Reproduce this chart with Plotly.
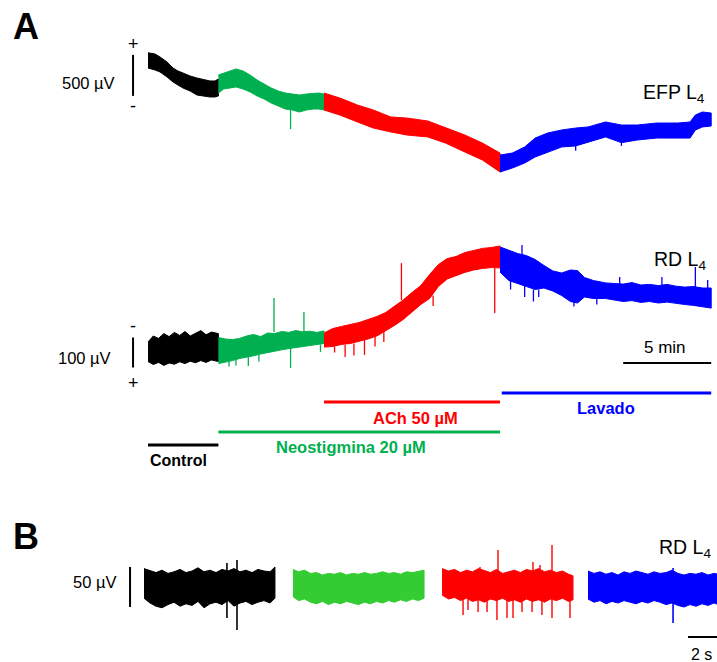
import plotly.graph_objects as go

W, H = 717, 662

# ---------------- Panel A : time in minutes ----------------
# EFP L4 trace (µV, positive up) – upper / lower envelope of the noisy band
efp_black_t  = [0, 0.4, 0.68, 1.08, 1.42, 1.7, 1.99, 2.39, 2.78, 3.18, 3.52, 3.81, 4.0]
efp_black_hi = [576, 561, 525, 464, 390, 354, 329, 293, 268, 244, 232, 232, 256]
efp_black_lo = [390, 366, 342, 281, 220, 183, 146, 110, 61, 49, 37, 37, 49]

efp_green_t  = [4.0, 4.3, 4.6, 5.0, 5.4, 5.8, 6.2, 6.6, 7.0, 7.4, 7.8, 8.2, 8.6, 9.0, 9.4, 9.7, 10.0]
efp_green_hi = [305, 329, 354, 378, 354, 305, 244, 195, 146, 110, 85, 73, 61, 73, 85, 85, 73]
efp_green_lo = [85, 134, 146, 159, 134, 98, 49, 12, -37, -73, -110, -122, -146, -122, -110, -110, -122]

efp_red_t  = [10.0, 10.9, 11.9, 12.8, 13.8, 14.7, 15.9, 16.9, 18.0, 19.0, 20.0]
efp_red_hi = [85, 24, -61, -122, -207, -220, -256, -342, -427, -525, -647]
efp_red_lo = [-122, -183, -268, -342, -390, -427, -451, -525, -634, -732, -878]

efp_blue_t  = [20.0, 20.7, 21.4, 22.0, 22.7, 23.5, 24.3, 25.0, 26.0, 26.9, 27.8, 28.9, 30.1, 30.8, 31.1, 31.5, 32.0]
efp_blue_hi = [-671, -647, -573, -464, -403, -366, -342, -329, -268, -305, -305, -281, -281, -268, -183, -146, -159]
efp_blue_lo = [-878, -830, -769, -695, -634, -573, -560, -512, -451, -520, -488, -464, -464, -464, -366, -329, -317]

efp_spike_t    = [8.1, 24.3, 26.9]
efp_spike_base = [-122, -560, -520]
efp_spike_tip  = [-354, -620, -560]
efp_spike_col  = ["green", "blue", "blue"]

# RD L4 trace (µV, positive down: "-" above, "+" below)
rd_black_t  = [0, 0.3, 0.6, 0.9, 1.2, 1.5, 1.8, 2.1, 2.4, 2.7, 3.0, 3.3, 3.6, 4.0]
rd_black_hi = [-60, -80, -72, -88, -78, -92, -82, -95, -80, -90, -98, -84, -93, -88]
rd_black_lo = [5, 15, 8, 18, 10, 14, 6, 12, 4, 9, 2, 8, 0, 5]

rd_green_t  = [4.0, 4.4, 4.8, 5.2, 5.6, 6.0, 6.4, 6.8, 7.2, 7.6, 8.0, 8.4, 8.8, 9.2, 9.6, 10.0]
rd_green_hi = [-75, -70, -68, -72, -80, -85, -78, -90, -88, -95, -92, -98, -94, -96, -92, -97]
rd_green_lo = [12, 8, 2, -5, -10, -14, -20, -26, -30, -34, -38, -42, -45, -48, -52, -55]

rd_red_t  = [10.0, 10.5, 11.0, 11.5, 12.0, 12.5, 13.0, 13.5, 14.0, 14.5, 15.0, 15.5, 16.0, 16.5,
             17.0, 17.5, 18.0, 18.5, 19.0, 19.5, 20.0]
rd_red_hi = [-90, -105, -112, -118, -125, -135, -145, -158, -178, -200, -225, -248, -285, -318,
             -338, -345, -358, -365, -372, -375, -380]
rd_red_lo = [-43, -45, -52, -55, -62, -70, -80, -98, -115, -135, -160, -185, -205, -245,
             -270, -282, -292, -300, -305, -308, -307]

rd_blue_t  = [20.0, 20.5, 21.0, 21.5, 22.0, 22.5, 23.0, 23.5, 24.0, 24.4, 24.8, 25.3, 26.0, 26.5,
              27.0, 27.5, 28.0, 28.5, 29.0, 29.5, 30.0, 30.5, 31.0, 31.5, 32.0]
rd_blue_hi = [-377, -365, -355, -348, -335, -315, -297, -290, -300, -298, -275, -265, -257, -255,
              -253, -258, -250, -252, -248, -252, -246, -243, -245, -240, -240]
rd_blue_lo = [-293, -265, -255, -245, -235, -240, -230, -215, -195, -190, -210, -205, -205, -200,
              -195, -198, -192, -195, -190, -193, -188, -185, -182, -178, -173]

rd_green_spk_t    = [7.16, 8.86, 8.1, 5.7, 4.6, 5.0, 6.3, 9.8]
rd_green_spk_base = [-93, -93, -43, -13, 5, 0, -20, -52]
rd_green_spk_tip  = [-207, -160, 27, 20, 22, 18, 5, -27]
rd_red_spk_t    = [14.4, 19.7, 11.2, 12.3, 10.6, 11.7, 12.9, 13.4, 16.2]
rd_red_spk_base = [-200, -307, -50, -67, -45, -55, -78, -95, -215]
rd_red_spk_tip  = [-323, -157, -10, -17, -25, -15, -45, -60, -180]
rd_blue_spk_t    = [21.25, 26.8, 29.2, 31.1, 31.8, 20.6, 21.4, 21.9, 22.2, 24.2, 25.5]
rd_blue_spk_base = [-350, -253, -250, -243, -240, -265, -250, -235, -235, -195, -205]
rd_blue_spk_tip  = [-383, -277, -277, -310, -267, -235, -210, -195, -210, -178, -185]

# treatment periods (min)
treat_names  = ["Control", "Neostigmina 20 µM", "ACh 50 µM", "Lavado"]
treat_start  = [0, 4.0, 10.0, 20.1]
treat_end    = [4.0, 20.0, 20.0, 32.0]

# ---------------- Panel B : time in seconds ----------------
b_black_t  = [0, 0.4, 0.8, 1.2, 1.6, 2.0, 2.4, 2.8, 3.2, 3.6, 4.0, 4.4, 4.8, 5.2, 5.6, 6.0,
              6.4, 6.8, 7.2, 7.6, 8.0, 8.4, 8.73]
b_black_hi = [23, 20, 18, 21, 17, 19, 22, 18, 20, 24, 19, 21, 18, 22, 20, 23, 19, 21, 18, 22,
              20, 19, 25]
b_black_lo = [-14, -20, -24, -26, -22, -19, -24, -21, -23, -18, -26, -21, -19, -22, -17, -24,
              -20, -18, -22, -19, -17, -20, -14]
b_black_spk_t   = [5.53, 6.2]
b_black_spk_up  = [30, 33.75]
b_black_spk_dn  = [-38.75, -53.75]

b_green_t  = [9.93, 10.3, 10.7, 11.1, 11.5, 11.9, 12.3, 12.7, 13.1, 13.5, 13.9, 14.3, 14.7,
              15.1, 15.5, 15.9, 16.3, 16.7, 17.1, 17.5, 17.9, 18.3, 18.67]
b_green_hi = [22, 19, 21, 17, 18, 15, 17, 16, 18, 15, 17, 16, 18, 16, 17, 19, 17, 18, 16, 19,
              18, 20, 21]
b_green_lo = [-12, -17, -15, -19, -21, -18, -22, -19, -21, -18, -20, -22, -19, -21, -18, -20,
              -17, -19, -16, -18, -15, -17, -14]

b_red_t  = [19.87, 20.3, 20.7, 21.1, 21.5, 21.9, 22.3, 22.7, 23.1, 23.5, 23.9, 24.3, 24.7,
            25.1, 25.5, 25.9, 26.3, 26.7, 27.1, 27.5, 27.9, 28.3, 28.6]
b_red_hi = [23, 20, 22, 18, 21, 19, 23, 20, 18, 22, 17, 19, 21, 18, 22, 20, 23, 19, 21, 18,
            20, 16, 14]
b_red_lo = [-10, -15, -13, -17, -14, -18, -16, -19, -15, -17, -14, -18, -16, -19, -15, -18,
            -16, -19, -15, -17, -14, -18, -16]
b_red_spk_t   = [21.27, 21.6, 22.27, 22.87, 23.53, 24.2, 24.6, 25.2, 25.87, 26.53, 27.2, 28.4,
                 23.6, 27.2, 22.4, 25.93, 26.4]
b_red_spk_tip = [-35, -28.75, -31.25, -31.25, -41.25, -38.75, -38.75, -31.25, -31.25, -35,
                 -38.75, -38.75, 46.25, 52.5, 25, 31.25, 27.5]

b_blue_t  = [29.6, 30.0, 30.4, 30.8, 31.2, 31.6, 32.0, 32.4, 32.8, 33.2, 33.6, 34.0, 34.4,
             34.8, 35.2, 35.6, 36.0, 36.4, 36.8, 37.2, 37.6, 38.0, 38.3]
b_blue_hi = [20, 17, 19, 16, 18, 15, 19, 17, 20, 18, 16, 19, 17, 18, 21, 17, 15, 17, 16, 18,
             15, 17, 16]
b_blue_lo = [-15, -19, -17, -21, -18, -20, -17, -19, -21, -18, -20, -17, -19, -22, -20, -23,
             -25, -22, -24, -21, -23, -20, -22]
b_blue_spk_t   = [35.27]
b_blue_spk_up  = [23.75]
b_blue_spk_dn  = [-45]

# ---------------- styles / geometry ----------------
BLACK, GREEN, RED, BLUE, LGREEN = "#000000", "#00b050", "#ff0000", "#0000ff", "#33cc33"
COLORS = {"green": GREEN, "blue": BLUE}
FONT = "Arial, Liberation Sans, Helvetica, sans-serif"

# pixel scales
A_X0, A_PPU = 148, 17.6          # px of t=0, px per minute
EFP_Y0, EFP_PPU = 100, 0.082     # px of 0 µV, px per µV
RD_Y0, RD_PPU = 360, 0.3
B_X0, B_PPU = 144, 15.0
B_Y0, B_YPPU = 587, 0.8

fig = go.Figure()


def band(t, hi, lo, color, xa, ya):
    fig.add_trace(go.Scatter(
        x=list(t) + list(t)[::-1], y=list(hi) + list(lo)[::-1],
        fill="toself", fillcolor=color, mode="lines",
        line=dict(color=color, width=1), xaxis=xa, yaxis=ya,
        hoverinfo="skip", showlegend=False))


def spikes(t, a, b, color, xa, ya, w=1.3):
    xs, ys = [], []
    for ti, ai, bi in zip(t, a, b):
        xs += [ti, ti, None]
        ys += [ai, bi, None]
    fig.add_trace(go.Scatter(x=xs, y=ys, mode="lines",
                             line=dict(color=color, width=w), xaxis=xa, yaxis=ya,
                             hoverinfo="skip", showlegend=False))


# EFP
band(efp_black_t, efp_black_hi, efp_black_lo, BLACK, "x", "y")
band(efp_green_t, efp_green_hi, efp_green_lo, GREEN, "x", "y")
band(efp_red_t, efp_red_hi, efp_red_lo, RED, "x", "y")
band(efp_blue_t, efp_blue_hi, efp_blue_lo, BLUE, "x", "y")
for ti, b0, b1, c in zip(efp_spike_t, efp_spike_base, efp_spike_tip, efp_spike_col):
    spikes([ti], [b0], [b1], COLORS[c], "x", "y")

# RD
band(rd_black_t, rd_black_hi, rd_black_lo, BLACK, "x", "y2")
band(rd_green_t, rd_green_hi, rd_green_lo, GREEN, "x", "y2")
band(rd_red_t, rd_red_hi, rd_red_lo, RED, "x", "y2")
band(rd_blue_t, rd_blue_hi, rd_blue_lo, BLUE, "x", "y2")
spikes(rd_green_spk_t, rd_green_spk_base, rd_green_spk_tip, GREEN, "x", "y2")
spikes(rd_red_spk_t, rd_red_spk_base, rd_red_spk_tip, RED, "x", "y2")
spikes(rd_blue_spk_t, rd_blue_spk_base, rd_blue_spk_tip, BLUE, "x", "y2")

# Panel B
band(b_black_t, b_black_hi, b_black_lo, BLACK, "x2", "y3")
band(b_green_t, b_green_hi, b_green_lo, LGREEN, "x2", "y3")
band(b_red_t, b_red_hi, b_red_lo, RED, "x2", "y3")
band(b_blue_t, b_blue_hi, b_blue_lo, BLUE, "x2", "y3")
spikes(b_black_spk_t, b_black_spk_up, b_black_spk_dn, BLACK, "x2", "y3", 1.6)
spikes(b_red_spk_t, [0] * len(b_red_spk_t), b_red_spk_tip, RED, "x2", "y3", 1.4)
spikes(b_blue_spk_t, b_blue_spk_up, b_blue_spk_dn, BLUE, "x2", "y3", 1.6)

shapes = []
annots = []


def px_x(x):
    return x / W


def px_y(y):
    return 1 - y / H


def text(x, y, s, size, color=BLACK, bold=False, xanchor="center"):
    annots.append(dict(x=px_x(x), y=px_y(y), xref="paper", yref="paper", text=s,
                       showarrow=False, xanchor=xanchor, yanchor="middle",
                       font=dict(family=FONT, size=size, color=color,
                                 weight="bold" if bold else "normal")))


def seg(x0, x1, y0, y1, xr, yr, color=BLACK, w=2):
    shapes.append(dict(type="line", x0=x0, x1=x1, y0=y0, y1=y1, xref=xr, yref=yr,
                       line=dict(color=color, width=w)))


# scale bars (data units)
seg(-0.85, -0.85, 50, 550, "x", "y")              # 500 µV
seg(-0.85, -0.85, -75, 25, "x", "y2")             # 100 µV
seg(27.0, 32.0, 10, 10, "x", "y2")                # 5 min
seg(-0.93, -0.93, -25, 25, "x2", "y3")            # 50 µV
seg(36.27, 38.27, -62.5, -62.5, "x2", "y3")       # 2 s

# treatment bars
treat_colors = [BLACK, GREEN, RED, BLUE]
treat_level = [283, 240, 140, 110]                # RD-axis level below traces
for s0, s1, c, lv in zip(treat_start, treat_end, treat_colors, treat_level):
    seg(s0, s1, lv, lv, "x", "y2", c, 3)

# labels
text(11, 26, "<b>A</b>", 36, xanchor="left")
text(11, 536, "<b>B</b>", 36, xanchor="left")
text(133, 44, "+", 18)
text(133, 106, "-", 18)
text(117, 83, "500 µV", 16.5, xanchor="right")
text(133, 326, "-", 18)
text(133, 383, "+", 18)
text(113, 358, "100 µV", 16.5, xanchor="right")
text(707, 93, "EFP L<sub>4</sub>", 19.5, xanchor="right")
text(708, 260, "RD L<sub>4</sub>", 19.5, xanchor="right")
text(665, 347, "5 min", 17)
text(148, 460, "<b>" + treat_names[0] + "</b>", 16, BLACK, xanchor="left")
text(351, 447, "<b>" + treat_names[1] + "</b>", 16.5, GREEN)
text(416, 418, "<b>" + treat_names[2] + "</b>", 16.5, RED)
text(606, 408, "<b>" + treat_names[3] + "</b>", 16.5, BLUE)
text(118, 582, "50 µV", 16.5, xanchor="right")
text(713, 548, "RD L<sub>4</sub>", 19.5, xanchor="right")
text(714, 654, "2 s", 16, xanchor="right")

hidden = dict(visible=False, showgrid=False, zeroline=False, fixedrange=True)

fig.update_layout(
    width=W, height=H, margin=dict(l=0, r=0, t=0, b=0),
    paper_bgcolor="white", plot_bgcolor="white", showlegend=False,
    xaxis=dict(hidden, domain=[0, 1], range=[-A_X0 / A_PPU, (W - A_X0) / A_PPU]),
    yaxis=dict(hidden, domain=[0, 1], range=[(EFP_Y0 - H) / EFP_PPU, EFP_Y0 / EFP_PPU]),
    yaxis2=dict(hidden, domain=[0, 1], overlaying="y", anchor="x",
                range=[(H - RD_Y0) / RD_PPU, -RD_Y0 / RD_PPU]),
    xaxis2=dict(hidden, domain=[0, 1], overlaying="x", anchor="y3",
                range=[-B_X0 / B_PPU, (W - B_X0) / B_PPU]),
    yaxis3=dict(hidden, domain=[0, 1], overlaying="y", anchor="x2",
                range=[(B_Y0 - H) / B_YPPU, B_Y0 / B_YPPU]),
    shapes=shapes, annotations=annots,
)

fig.write_html("out.html")
